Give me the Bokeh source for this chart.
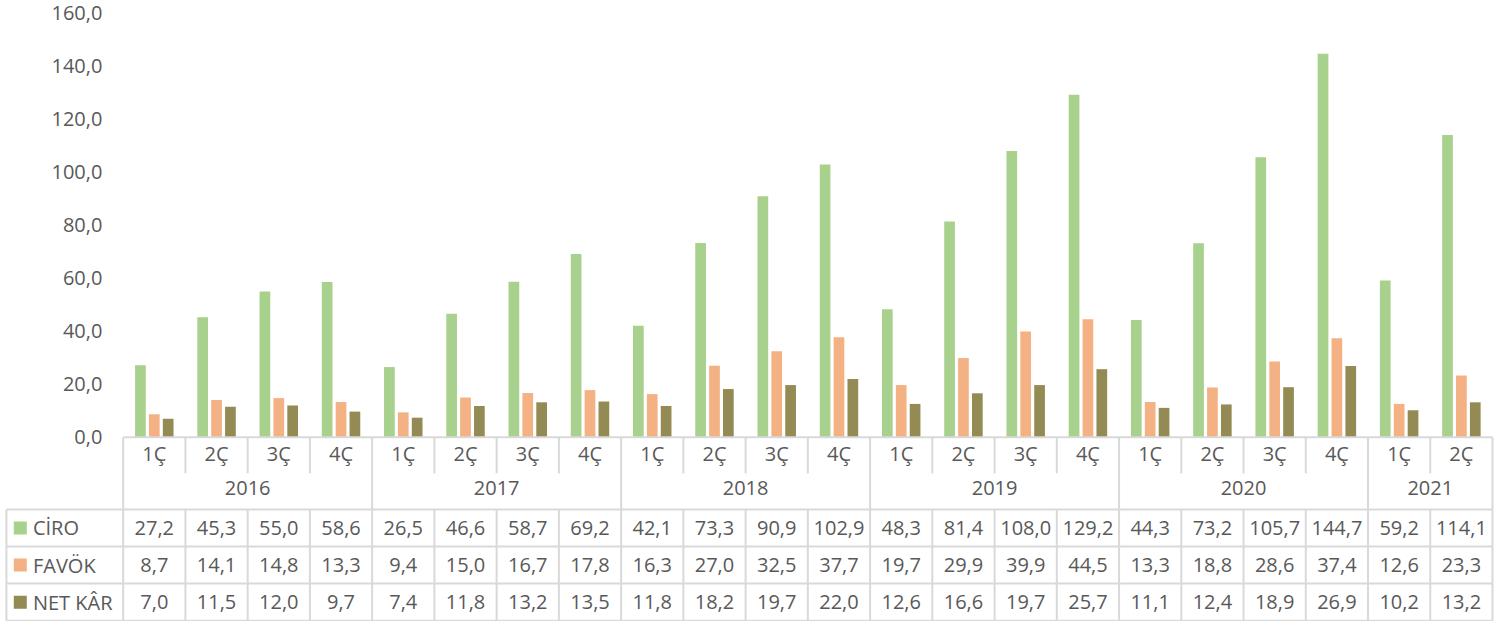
from bokeh.plotting import figure
from bokeh.models import Range1d, ColumnDataSource
from bokeh.core.properties import value
from bokeh.embed import file_html
from bokeh.resources import INLINE

# ---- data ----
quarters = ["1Ç", "2Ç", "3Ç", "4Ç"] * 5 + ["1Ç", "2Ç"]
years = ["2016", "2017", "2018", "2019", "2020", "2021"]
year_counts = [4, 4, 4, 4, 4, 2]
ciro = [27.2, 45.3, 55.0, 58.6, 26.5, 46.6, 58.7, 69.2, 42.1, 73.3, 90.9, 102.9,
        48.3, 81.4, 108.0, 129.2, 44.3, 73.2, 105.7, 144.7, 59.2, 114.1]
favok = [8.7, 14.1, 14.8, 13.3, 9.4, 15.0, 16.7, 17.8, 16.3, 27.0, 32.5, 37.7,
         19.7, 29.9, 39.9, 44.5, 13.3, 18.8, 28.6, 37.4, 12.6, 23.3]
netkar = [7.0, 11.5, 12.0, 9.7, 7.4, 11.8, 13.2, 13.5, 11.8, 18.2, 19.7, 22.0,
          12.6, 16.6, 19.7, 25.7, 11.1, 12.4, 18.9, 26.9, 10.2, 13.2]
series_names = ["CİRO", "FAVÖK", "NET KÂR"]
y_ticks = [0, 20, 40, 60, 80, 100, 120, 140, 160]

# ---- style / layout ----
colors = ["#A9D18E", "#F4B183", "#948A54"]
TXT = "#595959"
GRID = "#D9D9D9"
FONT = value("Open Sans")
FS = "20px"
n = len(quarters)
X0 = -2.376           # table left edge
XR = n - 0.5          # right edge
ROW_Q = -13.6         # bottom of quarter separators
SER_TOP = -27.2       # top of series rows
ROW_H = 14.0
BOTTOM = SER_TOP - 3 * ROW_H

p = figure(width=1494, height=621, output_backend="svg", toolbar_location=None,
           x_range=Range1d(-2.471, 21.532), y_range=Range1d(-69.5, 164.8),
           min_border=0, outline_line_color=None)
p.xaxis.visible = False
p.yaxis.visible = False
p.grid.visible = False
p.background_fill_color = "white"
p.border_fill_color = "white"

# ---- bars ----
series = [ciro, favok, netkar]
offsets = [-0.223, 0.0, 0.223]
for vals, off, c in zip(series, offsets, colors):
    src = ColumnDataSource(dict(x=[i + off for i in range(n)], top=vals))
    p.vbar(x="x", top="top", width=0.172, bottom=0, source=src,
           fill_color=c, line_color=None)

# ---- y tick labels ----
p.text(x=[-0.834] * len(y_ticks), y=y_ticks,
       text=[f"{t:.1f}".replace(".", ",") for t in y_ticks],
       text_align="right", text_baseline="middle", text_color=TXT,
       text_font=FONT, text_font_size=FS)

# ---- table lines ----
xs0, ys0, xs1, ys1 = [], [], [], []
xs0.append(-0.5); ys0.append(0); xs1.append(XR); ys1.append(0)
for k in range(4):
    yy = SER_TOP - k * ROW_H
    xs0.append(X0); ys0.append(yy); xs1.append(XR); ys1.append(yy)
xs0.append(X0); ys0.append(SER_TOP); xs1.append(X0); ys1.append(BOTTOM)
year_bounds = [0]
for c in year_counts:
    year_bounds.append(year_bounds[-1] + c)
for b in range(n + 1):
    xb = b - 0.5
    if b in year_bounds:
        xs0.append(xb); ys0.append(0); xs1.append(xb); ys1.append(BOTTOM)
    else:
        xs0.append(xb); ys0.append(0); xs1.append(xb); ys1.append(ROW_Q)
        xs0.append(xb); ys0.append(SER_TOP); xs1.append(xb); ys1.append(BOTTOM)
p.segment(x0=xs0, y0=ys0, x1=xs1, y1=ys1, line_color=GRID, line_width=2)

# ---- quarter and year labels ----
p.text(x=list(range(n)), y=[-6.25] * n, text=quarters, text_align="center",
       text_baseline="middle", text_color=TXT, text_font=FONT, text_font_size=FS)
year_x = [(year_bounds[i] + year_bounds[i + 1] - 1) / 2 for i in range(len(years))]
p.text(x=year_x, y=[-19.1] * len(years), text=years, text_align="center",
       text_baseline="middle", text_color=TXT, text_font=FONT, text_font_size=FS)

# ---- data table rows ----
for r, (vals, name, c) in enumerate(zip(series, series_names, colors)):
    yc = SER_TOP - (r + 0.5) * ROW_H
    p.text(x=list(range(n)), y=[yc] * n,
           text=[f"{v:.1f}".replace(".", ",") for v in vals],
           text_align="center", text_baseline="middle", text_color=TXT,
           text_font=FONT, text_font_size=FS)
    p.scatter(x=[-2.153], y=[yc], marker="square", size=13,
              fill_color=c, line_color=None)
    p.text(x=[-1.95], y=[yc], text=[name], text_align="left",
           text_baseline="middle", text_color=TXT, text_font=FONT, text_font_size=FS)

open("out.html", "w").write(file_html(p, INLINE))
